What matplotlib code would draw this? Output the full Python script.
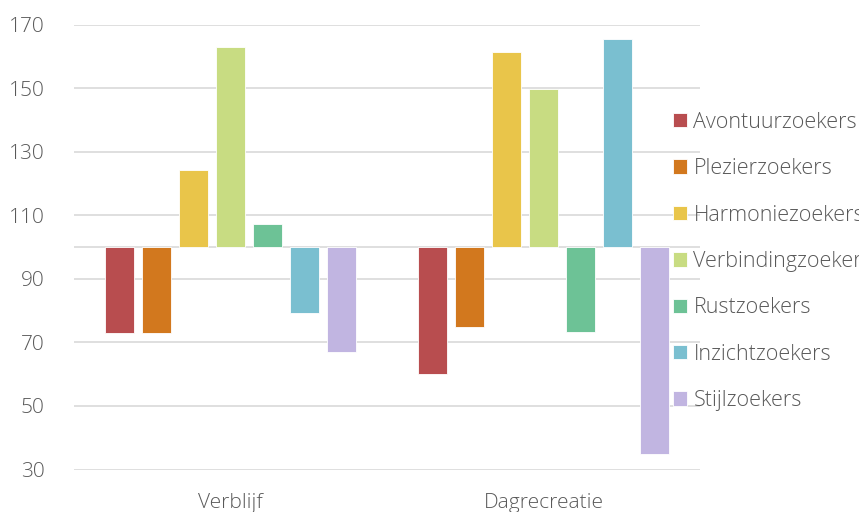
import numpy as np
import matplotlib.pyplot as plt

categories = ['Verblijf', 'Dagrecreatie']
segments = ['Avontuurzoekers', 'Plezierzoekers', 'Harmoniezoekers', 'Verbindingzoekers',
            'Rustzoekers', 'Inzichtzoekers', 'Stijlzoekers']
values = {
    'Avontuurzoekers': [73, 60],
    'Plezierzoekers': [72.8, 74.8],
    'Harmoniezoekers': [124.2, 161.5],
    'Verbindingzoekers': [163, 149.8],
    'Rustzoekers': [107.2, 73.2],
    'Inzichtzoekers': [79.2, 165.5],
    'Stijlzoekers': [67.1, 35],
}
colors = ['#B84D4F', '#D2781E', '#E9C54A', '#C8DC82', '#6DC296', '#7ABFD0', '#C1B5E1']
baseline = 100

fam = ['Open Sans', 'DejaVu Sans']
plt.rcParams['font.family'] = fam
txt = '#595959'
fs = 15

fig = plt.figure(figsize=(8.59, 5.12), dpi=100)
ax = fig.add_axes([74 / 859, 1 - 469.5 / 512, 626 / 859, 445 / 512])

x = np.arange(len(categories))
pitch = 37 / 313
width = 29 / 313
for i, seg in enumerate(segments):
    v = np.array(values[seg])
    ax.bar(x + (i - 3) * pitch, v - baseline, width, bottom=baseline,
           color=colors[i], edgecolor='white', linewidth=0.6, label=seg, zorder=3)

ax.set_xlim(-0.5, 1.5)
ax.set_ylim(30, 170)
ax.set_yticks(range(30, 171, 20))
ax.set_xticks(x)
ax.set_xticklabels(categories)
ax.grid(axis='y', color='#D9D9D9', linewidth=1.2, zorder=0)
ax.axhline(baseline, color='#D9D9D9', linewidth=1.2, zorder=2)
for s in ax.spines.values():
    s.set_visible(False)
ax.tick_params(axis='both', length=0, colors=txt, labelsize=fs)
ax.tick_params(axis='y', pad=21)
ax.tick_params(axis='x', pad=17)
for lab in ax.get_xticklabels() + ax.get_yticklabels():
    lab.set_fontweight('light')

# legend sits over the right end of the grid and runs past the figure edge, as in the original
leg = ax.legend(loc='center left', bbox_to_anchor=((673 - 74) / 626, (469.5 - 261.5) / 445),
                frameon=False, borderpad=0, borderaxespad=0, handlelength=0.65, handleheight=0.65,
                handletextpad=0.3, labelspacing=1.18,
                prop={'family': fam, 'weight': 'light', 'size': fs + 0.5})
for t in leg.get_texts():
    t.set_color(txt)

fig.savefig('out.png', dpi=100)
